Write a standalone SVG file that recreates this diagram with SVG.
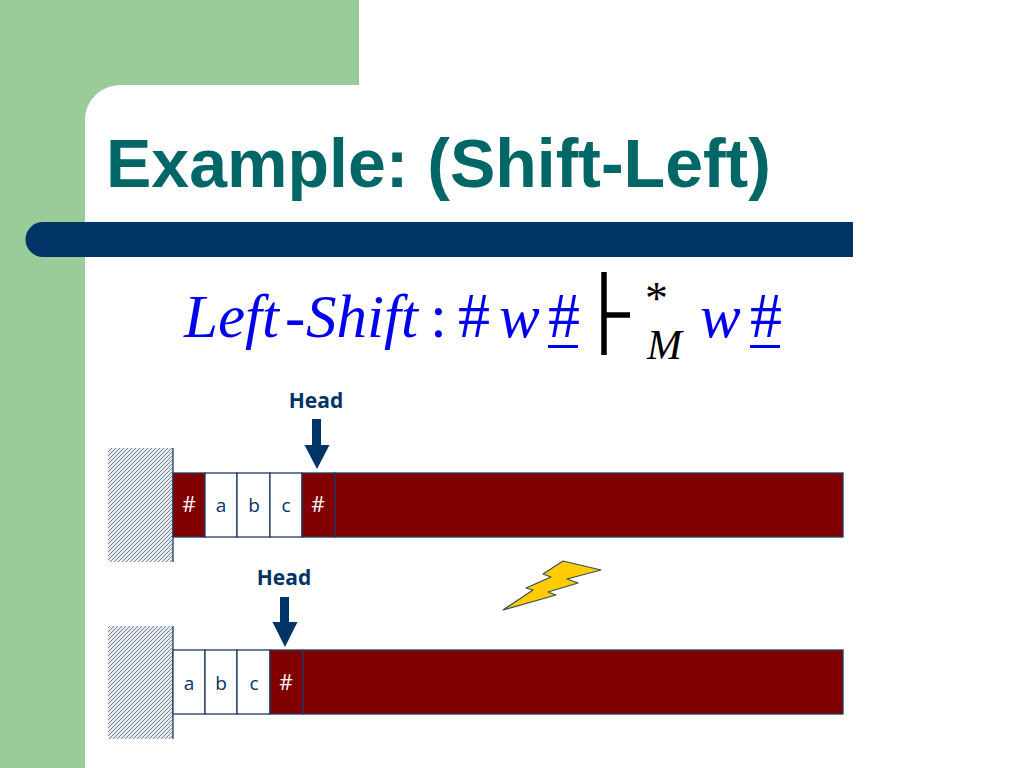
<svg xmlns="http://www.w3.org/2000/svg" width="1024" height="768" viewBox="0 0 1024 768">
<style>
.cell{fill:#fff;stroke:#1f3a5f;stroke-width:1.3}
.red{fill:#800000;stroke:#1f3a5f;stroke-width:1.3}
.wall{fill:url(#hatch);stroke:none}
.edge{stroke:#1f3a5f;stroke-width:1.3}
.t{font-family:"Open Sans","DejaVu Sans",sans-serif;font-size:19px;text-anchor:middle;fill:#003366}
.w{fill:#fff;font-size:21px}
.head{font-family:"Open Sans","DejaVu Sans",sans-serif;font-size:21px;font-weight:700;text-anchor:middle;fill:#003366}
.f{font-family:"Liberation Serif",serif;font-style:italic;fill:#0000ee;font-size:61px}
.up{font-family:"Liberation Serif",serif;fill:#0000ee;font-size:64px}
.arrow{fill:#003366}
</style>
<defs>
<pattern id="hatch" width="4" height="4" patternUnits="userSpaceOnUse">
<rect width="4" height="4" fill="#e6eaed"/>
<path d="M-1 1L1 -1M0 4L4 0M3 5L5 3" stroke="#76869a" stroke-width="1"/>
</pattern>
</defs>
<rect width="1024" height="768" fill="#fff"/>
<g id="background">
<path d="M0 0H359V85H120A35 35 0 0 0 85 120V768H0Z" fill="#99cc99"/>
<path d="M70 222H853V257H43A17.500 17.500 0 0 1 43 222Z" fill="#003366"/>
</g>
<text id="title" x="106" y="187" font-family="Liberation Sans,sans-serif" font-size="68" font-weight="700" fill="#006666">Example: (Shift-Left)</text>
<g id="formula">
<text class="f" x="184" y="337">Left</text>
<text class="f" x="285" y="337">-</text>
<text class="f" x="306" y="337">Shift</text>
<text class="up" x="430" y="337" style="font-size:61px">:</text>
<text class="up" x="458" y="337">#</text>
<text class="f" x="499" y="337">w</text>
<text class="up" x="548" y="337">#</text>
<rect x="548" y="345" width="30" height="3" fill="#0000ee"/>
<path d="M604 272V355M604 315H630" stroke="#000" stroke-width="5.500" fill="none"/>
<text x="645" y="314" font-family="Liberation Serif,serif" font-size="46" fill="#000">*</text>
<text x="647" y="359" font-family="Liberation Serif,serif" font-style="italic" font-size="42" fill="#000">M</text>
<text class="f" x="700" y="337">w</text>
<text class="up" x="750" y="337">#</text>
<rect x="750" y="345" width="30" height="3" fill="#0000ee"/>
</g>
<g id="tape1">
<rect class="wall" x="108" y="448" width="65" height="114"/>
<line class="edge" x1="173" y1="448" x2="173" y2="562"/>
<rect class="red" x="173" y="473" width="32" height="64"/>
<rect class="cell" x="205" y="473" width="32" height="64"/>
<rect class="cell" x="237" y="473" width="33" height="64"/>
<rect class="cell" x="270" y="473" width="32" height="64"/>
<rect class="red" x="302" y="473" width="33" height="64"/>
<rect class="red" x="335" y="473" width="508" height="64"/>
<text class="t w" x="189" y="512">#</text>
<text class="t" x="221" y="512">a</text>
<text class="t" x="254" y="512">b</text>
<text class="t" x="286" y="512">c</text>
<text class="t w" x="318" y="512">#</text>
</g>
<g id="head1">
<text class="head" x="316" y="408">Head</text>
<path class="arrow" d="M312 419H321V445H329.500L317 469L304.500 445H312Z"/>
</g>
<g id="tape2">
<rect class="wall" x="108" y="626" width="65" height="113"/>
<line class="edge" x1="173" y1="626" x2="173" y2="739"/>
<rect class="cell" x="173" y="650" width="32" height="64"/>
<rect class="cell" x="205" y="650" width="32" height="64"/>
<rect class="cell" x="237" y="650" width="33" height="64"/>
<rect class="red" x="270" y="650" width="33" height="64"/>
<rect class="red" x="303" y="650" width="540" height="64"/>
<text class="t" x="189" y="690">a</text>
<text class="t" x="221" y="690">b</text>
<text class="t" x="254" y="690">c</text>
<text class="t w" x="286" y="690">#</text>
</g>
<g id="head2">
<text class="head" x="284" y="585">Head</text>
<path class="arrow" d="M280 597H289V622H297.500L285 647L272.500 622H280Z"/>
</g>
<g id="lightning">
<path d="M503 610L533 590L526 588L551 577L543 574L563 561L601 570L567 579L578 583L548 592L556 595Z" fill="#ffcc00" stroke="#3a4a5a" stroke-width="1.200" stroke-linejoin="round"/>
</g>
</svg>
